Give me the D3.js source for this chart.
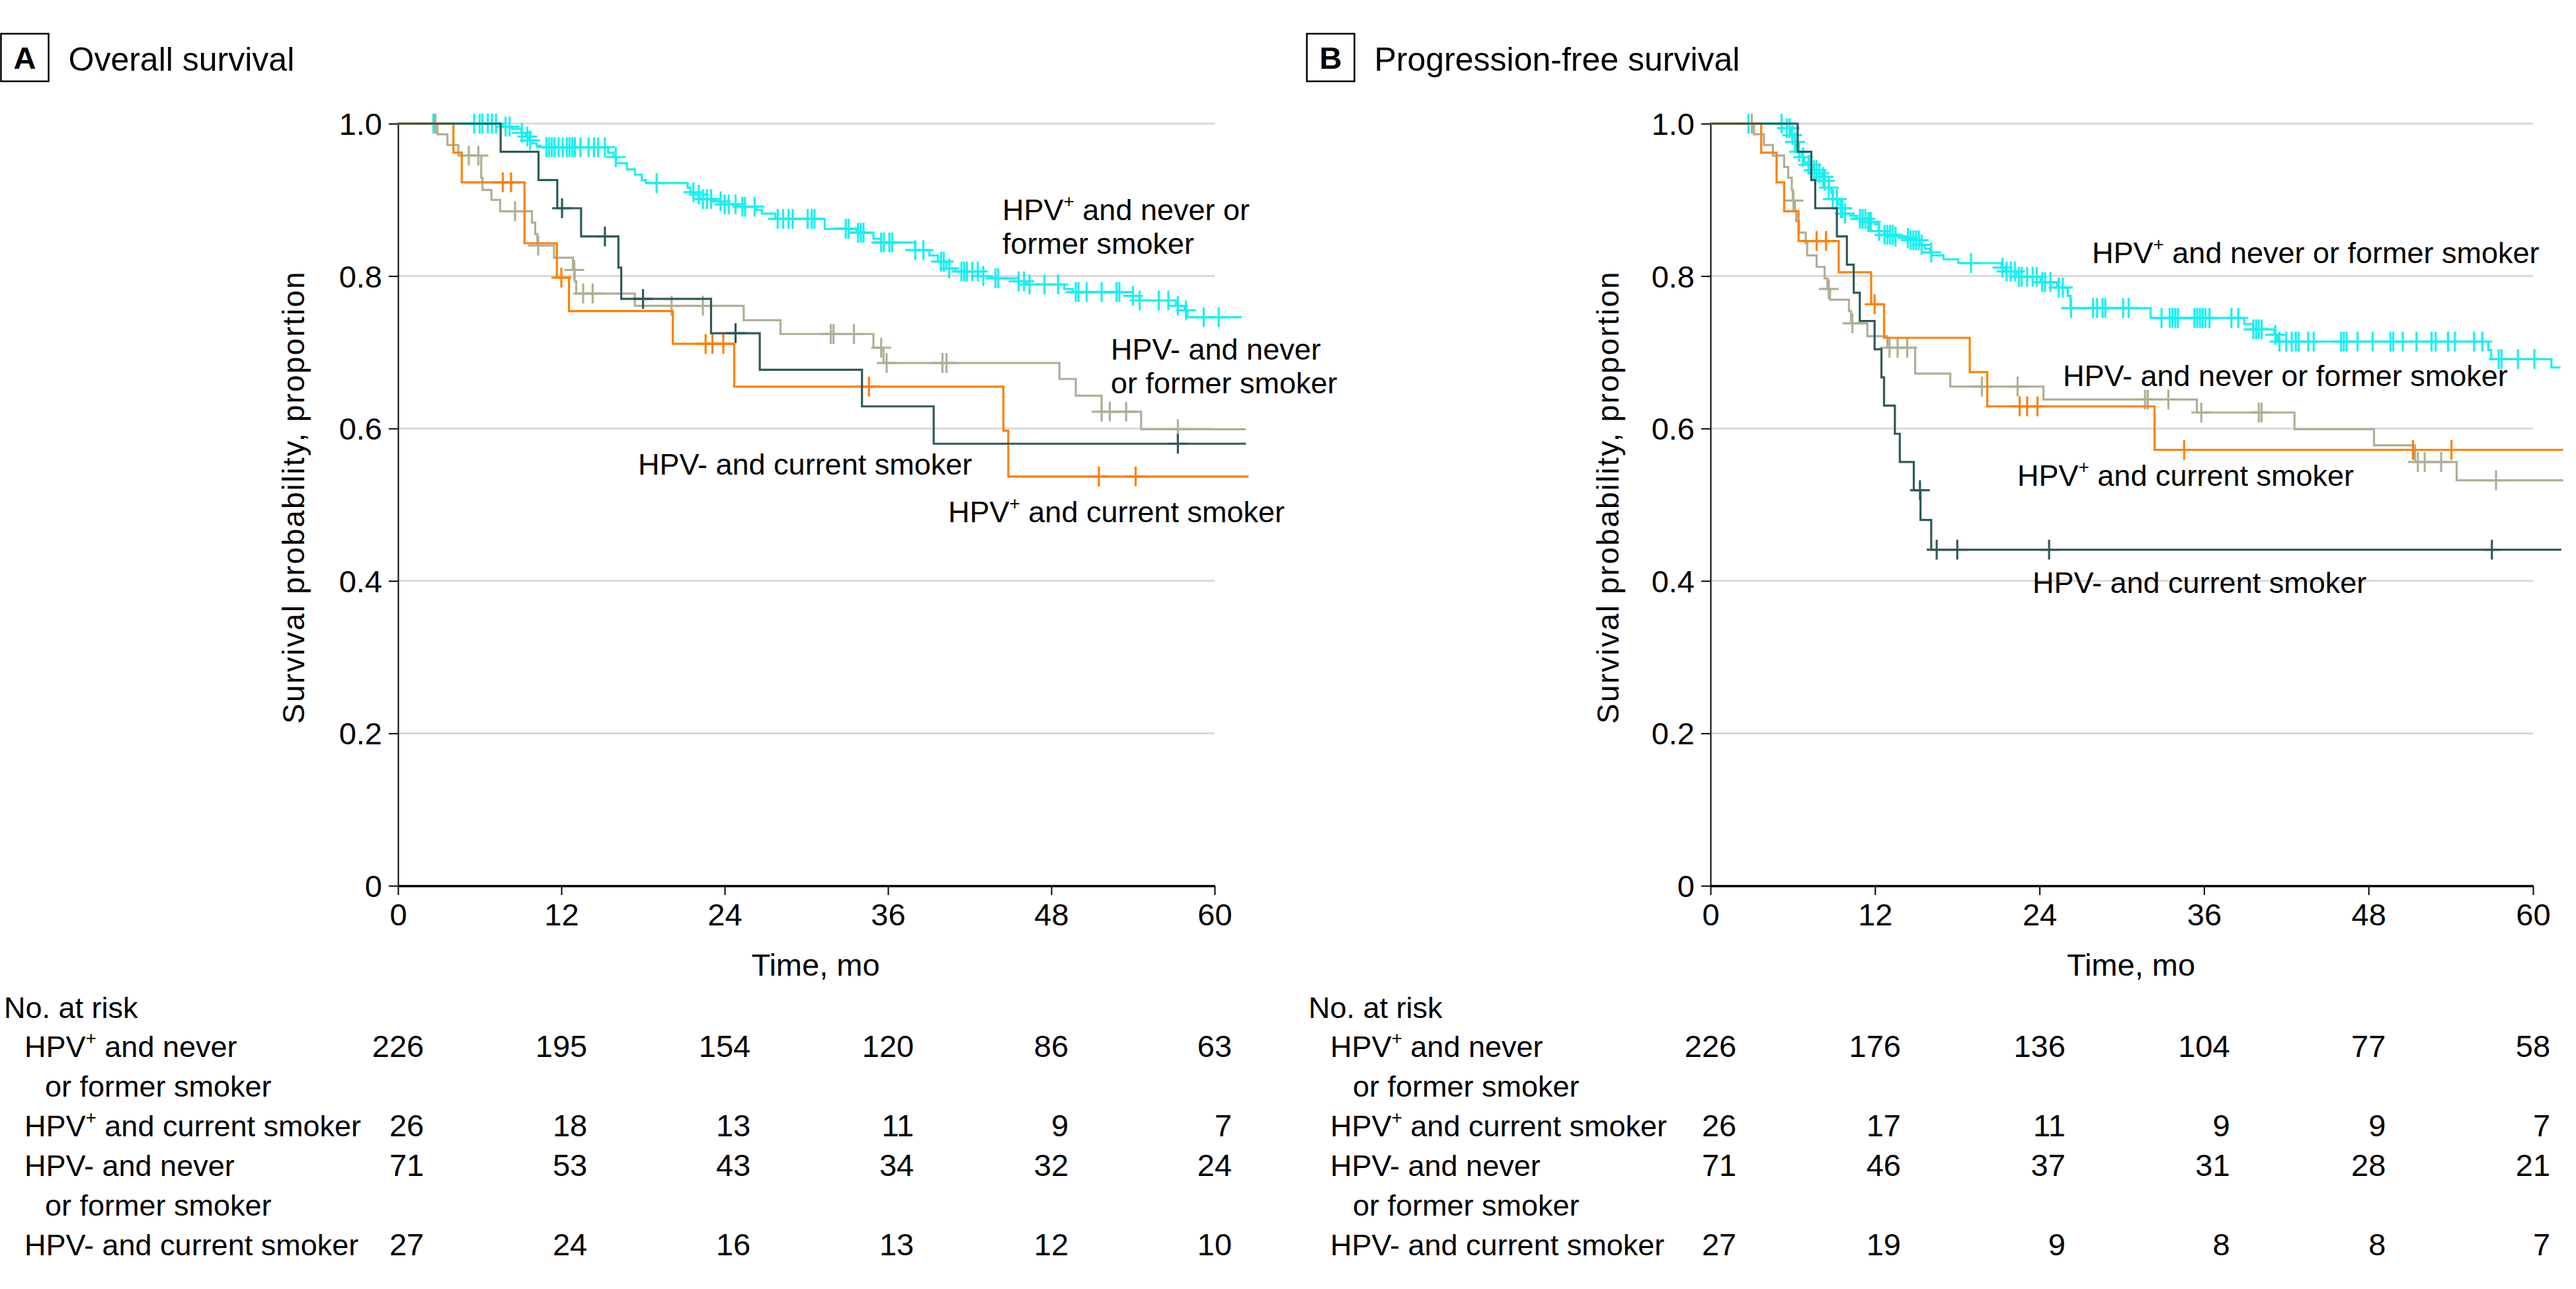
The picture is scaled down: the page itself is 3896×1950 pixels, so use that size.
<!DOCTYPE html>
<html><head><meta charset="utf-8">
<script src="https://cdn.jsdelivr.net/npm/d3@7/dist/d3.min.js"></script>
<style>
body{margin:0;background:#fff}
svg{display:block}
text{font-family:"Liberation Sans",Arial,Helvetica,sans-serif;fill:#000}
</style>
</head><body>
<svg id="chart" width="3896" height="1950"></svg>
<script>
// ---------------- DATA ----------------
const timeTicks = [0, 12, 24, 36, 48, 60];
const survTicks = [0, 0.2, 0.4, 0.6, 0.8, 1.0];
const groupNames = ["HPV⁺ and never or former smoker", "HPV⁺ and current smoker", "HPV- and never or former smoker", "HPV- and current smoker"];
const riskRowLabels = ["HPV⁺ and never", "HPV⁺ and current smoker", "HPV- and never", "HPV- and current smoker"];
const riskRowContinuation = ["or former smoker", "", "or former smoker", ""];

// Panel A: overall survival — Kaplan-Meier drops [month, survival]
const osPosNeverSteps = [[7.70,0.996],[8.39,0.993],[9.08,0.988],[9.38,0.983],[9.58,0.978],[9.88,0.974],[10.18,0.971],[10.47,0.969],[15.43,0.962],[15.83,0.956],[16.03,0.948],[16.82,0.940],[17.41,0.933],[17.91,0.926],[18.21,0.922],[21.28,0.916],[21.48,0.910],[21.78,0.907],[22.17,0.901],[23.16,0.898],[23.96,0.894],[24.95,0.891],[26.34,0.887],[26.73,0.882],[27.73,0.875],[31.35,0.862],[33.67,0.857],[34.93,0.849],[35.46,0.844],[37.99,0.834],[39.04,0.827],[39.67,0.819],[40.30,0.810],[40.94,0.806],[42.62,0.800],[43.46,0.797],[45.57,0.793],[46.20,0.789],[48.94,0.783],[49.58,0.779],[54.00,0.774],[54.50,0.768],[57.16,0.761],[57.79,0.755],[58.00,0.746]];
const osPosNeverCensored = [2.6,5.6,6.0,6.2,6.6,6.9,7.2,7.9,8.2,9.1,9.5,9.7,10.9,11.1,11.3,11.5,11.8,12.1,12.4,12.6,12.8,13.0,13.4,14.0,14.4,14.7,15.2,16.0,19.0,21.7,22.1,22.4,22.7,23.0,23.7,24.0,24.3,24.8,25.3,25.5,26.2,27.9,28.3,28.7,29.0,30.1,30.4,30.6,32.9,33.1,33.8,34.0,34.2,35.5,35.7,36.1,36.3,38.0,38.6,39.9,40.1,40.5,41.4,41.6,41.8,42.2,42.6,43.0,43.9,44.1,45.6,46.0,46.4,47.5,48.5,49.8,50.0,50.6,51.7,52.8,53.0,54.0,54.5,55.9,56.6,57.3,57.9,59.2,60.3];
const osPosCurrentSteps = [[4.07,0.962],[4.68,0.923],[9.29,0.843],[11.67,0.798],[12.56,0.754],[20.19,0.711],[24.70,0.655],[44.48,0.597],[44.84,0.537]];
const osPosCurrentCensored = [7.7,8.3,12.0,22.6,23.1,23.9,34.6,51.5,54.2];
const osNegNeverSteps = [[2.90,0.986],[3.63,0.972],[4.43,0.958],[6.11,0.929],[6.21,0.913],[6.86,0.900],[7.50,0.885],[9.84,0.870],[10.08,0.855],[10.24,0.840],[11.46,0.824],[12.85,0.808],[12.98,0.793],[13.09,0.777],[17.40,0.761],[25.40,0.742],[28.10,0.724],[34.93,0.706],[35.67,0.686],[48.60,0.665],[49.80,0.643],[51.70,0.622],[54.60,0.599]];
const osNegNeverCensored = [2.74,5.2,5.9,8.6,10.3,12.95,13.6,14.3,20.1,22.4,31.8,32.0,33.5,35.5,35.9,40.0,40.3,51.7,52.3,53.5,57.3];
const osNegCurrentSteps = [[7.54,0.963],[10.32,0.926],[11.70,0.889],[13.45,0.852],[16.19,0.811],[16.40,0.770],[23.00,0.725],[26.58,0.677],[34.09,0.629],[39.36,0.580]];
const osNegCurrentCensored = [12.05,15.2,18.0,24.8,57.3];
const osFollowUpEnd = [62.0, 62.5, 62.3, 62.3];

// Panel B: progression-free survival
const pfsPosNeverSteps = [[5.57,0.994],[5.87,0.985],[6.16,0.976],[6.26,0.963],[6.66,0.956],[6.85,0.949],[7.15,0.946],[7.44,0.939],[7.94,0.935],[8.13,0.930],[8.33,0.925],[8.63,0.916],[8.82,0.909],[8.92,0.901],[9.31,0.894],[9.51,0.889],[9.81,0.882],[10.2,0.879],[10.7,0.875],[11.48,0.871],[11.97,0.868],[12.27,0.859],[12.66,0.854],[13.45,0.852],[14.24,0.850],[14.44,0.847],[15.23,0.841],[15.62,0.836],[16.01,0.831],[16.11,0.827],[17.0,0.822],[18.08,0.817],[21.23,0.811],[21.53,0.806],[22.32,0.799],[24.09,0.792],[25.27,0.785],[26.06,0.774],[26.26,0.758],[32.1,0.745],[38.94,0.737],[39.57,0.730],[41.14,0.723],[41.35,0.714],[56.73,0.703],[56.94,0.691],[61.34,0.680]];
const pfsPosNeverCensored = [2.77,5.18,5.57,5.77,5.97,6.16,6.46,6.75,7.15,7.34,7.54,7.74,7.94,8.23,8.33,8.63,8.92,9.22,9.51,9.61,9.81,10.9,11.1,11.3,11.5,11.6,11.7,12.3,12.7,12.9,13.1,13.3,13.5,14.4,14.6,14.8,15.0,15.2,15.4,16.1,19.0,21.3,21.6,21.9,22.2,22.5,22.7,23.1,23.5,23.8,24.2,24.4,24.8,25.4,25.7,26.3,27.9,28.2,28.6,28.8,30.1,30.5,32.9,33.5,33.7,33.9,34.1,35.3,35.5,35.7,35.9,36.1,36.4,38.0,38.5,39.6,39.8,40.0,40.2,41.2,41.5,42.0,42.4,42.7,42.9,43.6,44.0,46.0,46.2,46.4,47.2,48.3,49.6,49.8,50.5,51.5,52.6,52.9,53.8,54.3,55.7,56.3,57.5,57.7,58.9,60.1];
const pfsPosCurrentSteps = [[3.70,0.962],[4.82,0.923],[5.37,0.885],[6.42,0.846],[9.35,0.805],[11.72,0.763],[12.66,0.719],[18.91,0.674],[20.19,0.629],[32.39,0.572]];
const pfsPosCurrentCensored = [7.74,8.43,11.97,22.55,23.1,23.85,34.55,51.24,54.05];
const pfsNegNeverSteps = [[3.17,0.986],[3.90,0.972],[4.55,0.958],[5.37,0.943],[5.67,0.929],[5.93,0.913],[6.00,0.899],[6.16,0.886],[6.25,0.872],[6.46,0.857],[6.95,0.843],[7.05,0.827],[7.74,0.812],[8.33,0.797],[8.53,0.783],[8.72,0.769],[10.10,0.754],[10.25,0.738],[11.44,0.721],[12.90,0.706],[14.93,0.672],[17.49,0.655],[24.29,0.638],[35.48,0.621],[42.60,0.599],[48.40,0.578],[51.39,0.556],[54.43,0.532]];
const pfsNegNeverCensored = [3.01,6.05,8.63,10.35,13.06,13.65,14.35,19.8,22.4,31.7,31.9,33.4,35.8,40.0,40.2,51.6,52.1,53.3,57.3];
const pfsNegCurrentSteps = [[6.36,0.963],[7.35,0.926],[7.64,0.889],[9.22,0.852],[9.95,0.815],[10.45,0.778],[10.89,0.741],[11.97,0.704],[12.47,0.667],[12.66,0.630],[13.45,0.593],[13.81,0.556],[14.83,0.519],[15.32,0.480],[16.10,0.441]];
const pfsNegCurrentCensored = [15.28,16.5,18.0,24.7,57.0];
const pfsFollowUpEnd = [62.0, 62.2, 62.2, 62.06];

// Numbers at risk (rows in group order, columns at timeTicks)
const osRiskPosNever = [226,195,154,120,86,63];
const osRiskPosCurrent = [26,18,13,11,9,7];
const osRiskNegNever = [71,53,43,34,32,24];
const osRiskNegCurrent = [27,24,16,13,12,10];
const pfsRiskPosNever = [226,176,136,104,77,58];
const pfsRiskPosCurrent = [26,17,11,9,9,7];
const pfsRiskNegNever = [71,46,37,31,28,21];
const pfsRiskNegCurrent = [27,19,9,8,8,7];

// ---------------- STYLE / LAYOUT ----------------
const groupColors = ["#17F0F0", "#FF8000", "#B0AF95", "#2E5A5A"];
const drawOrder = [0, 2, 1, 3];
const plotTop = 187, plotBottom = 1340;
const svg = d3.select("#chart");

function richText(sel, str, fs) {
  const parts = str.split("⁺");
  const sh = fs * 0.42;
  parts.forEach((p, i) => {
    if (i > 0) {
      sel.append("tspan").attr("font-size", fs * 0.62).attr("dy", -sh).text("+");
      sel.append("tspan").attr("font-size", fs).attr("dy", sh).text(p);
    } else if (p.length) {
      sel.append("tspan").text(p);
    }
  });
}

function survAt(steps, t) {
  let s = 1;
  for (const d of steps) { if (d[0] <= t) s = d[1]; else break; }
  return s;
}

function panel(o) {
  const g = svg.append("g");
  const x = d3.scaleLinear().domain([0, 60]).range([o.x0, o.x1]);
  const y = d3.scaleLinear().domain([0, 1]).range([plotBottom, plotTop]);

  // header
  g.append("rect").attr("x", o.boxX).attr("y", 51).attr("width", 72).attr("height", 72)
    .attr("fill", "none").attr("stroke", "#000").attr("stroke-width", 2.5);
  g.append("text").attr("x", o.boxX + 36).attr("y", 104).attr("text-anchor", "middle")
    .attr("font-size", 47).attr("font-weight", "bold").text(o.letter);
  g.append("text").attr("x", o.boxX + 102).attr("y", 107).attr("font-size", 50).text(o.title);

  // grid
  g.append("g").selectAll("line").data(survTicks.filter(v => v > 0)).join("line")
    .attr("x1", x(0)).attr("x2", x(60)).attr("y1", d => y(d)).attr("y2", d => y(d))
    .attr("stroke", "#d9d9d9").attr("stroke-width", 3);

  // y axis
  const ya = g.append("g").attr("transform", `translate(${x(0)},0)`)
    .call(d3.axisLeft(y).tickValues(survTicks).tickFormat(d => d === 0 ? "0" : d3.format(".1f")(d))
      .tickSize(14).tickSizeOuter(0).tickPadding(10));
  ya.attr("font-family", null).attr("font-size", null);
  ya.select(".domain").attr("stroke-width", 2);
  ya.selectAll(".tick line").attr("stroke-width", 2);
  ya.selectAll(".tick text").attr("font-size", 47).attr("dy", "0.35em");

  // x axis
  const xa = g.append("g").attr("transform", `translate(0,${y(0)})`)
    .call(d3.axisBottom(x).tickValues(timeTicks).tickFormat(d3.format("d"))
      .tickSize(14).tickSizeOuter(0).tickPadding(13));
  xa.attr("font-family", null).attr("font-size", null);
  xa.select(".domain").attr("stroke-width", 3.5);
  xa.selectAll(".tick line").attr("stroke-width", 2);
  xa.selectAll(".tick text").attr("font-size", 47);

  // axis titles
  g.append("text").attr("transform", `translate(${o.yLabelX},752) rotate(-90)`)
    .attr("text-anchor", "middle").attr("font-size", 46).attr("letter-spacing", 2.2)
    .text("Survival probability, proportion");
  g.append("text").attr("x", (x(0) + x(60)) / 2 + 14).attr("y", 1476).attr("text-anchor", "middle")
    .attr("font-size", 47).text("Time, mo");

  // curves
  const line = d3.line().x(d => x(d[0])).y(d => y(d[1])).curve(d3.curveStepAfter);
  drawOrder.forEach(i => {
    const steps = o.steps[i];
    const pts = [[0, 1], ...steps, [o.ends[i], steps[steps.length - 1][1]]];
    g.append("path").attr("d", line(pts)).attr("fill", "none")
      .attr("stroke", groupColors[i]).attr("stroke-width", 3.2);
    g.append("g").selectAll("path").data(o.cens[i]).join("path")
      .attr("d", t => {
        const cx = x(t), cy = y(survAt(steps, t));
        return `M${cx - 15},${cy}H${cx + 15}M${cx},${cy - 15}V${cy + 15}`;
      })
      .attr("fill", "none").attr("stroke", groupColors[i]).attr("stroke-width", 3.2);
  });

  // curve labels
  o.curveLabels.forEach((cl, i) => {
    cl.lines.forEach((ln, j) => {
      const t = g.append("text").attr("x", cl.x).attr("y", cl.y + j * 51).attr("font-size", 45);
      richText(t, ln, 45);
    });
  });

  // risk table
  g.append("text").attr("x", o.noRiskX).attr("y", 1540).attr("font-size", 45).text("No. at risk");
  const rowY = [1599, 1719, 1779, 1899];
  riskRowLabels.forEach((lab, i) => {
    const t = g.append("text").attr("x", o.rowX).attr("y", rowY[i]).attr("font-size", 45);
    richText(t, lab, 45);
    if (riskRowContinuation[i]) {
      g.append("text").attr("x", o.contX).attr("y", rowY[i] + 60).attr("font-size", 45).text(riskRowContinuation[i]);
    }
  });
  timeTicks.forEach((tk, c) => {
    const texts = o.risk.map((row, r) => g.append("text").attr("y", rowY[r])
      .attr("font-size", 47).attr("text-anchor", "end").text(row[c]));
    const maxW = d3.max(texts, t => t.node().getComputedTextLength());
    texts.forEach(t => t.attr("x", x(tk) + maxW / 2));
  });
}

panel({
  x0: 602, x1: 1837, boxX: 1.5, letter: "A", title: "Overall survival", yLabelX: 460,
  steps: [osPosNeverSteps, osPosCurrentSteps, osNegNeverSteps, osNegCurrentSteps],
  cens: [osPosNeverCensored, osPosCurrentCensored, osNegNeverCensored, osNegCurrentCensored],
  ends: osFollowUpEnd,
  risk: [osRiskPosNever, osRiskPosCurrent, osRiskNegNever, osRiskNegCurrent],
  noRiskX: 6, rowX: 37, contX: 68,
  curveLabels: [
    {x: 1516, y: 333, lines: ["HPV⁺ and never or", "former smoker"]},
    {x: 1434, y: 790, lines: ["HPV⁺ and current smoker"]},
    {x: 1680, y: 544, lines: ["HPV- and never", "or former smoker"]},
    {x: 965, y: 718, lines: ["HPV- and current smoker"]}
  ]
});

panel({
  x0: 2587, x1: 3831, boxX: 1976.5, letter: "B", title: "Progression-free survival", yLabelX: 2448,
  steps: [pfsPosNeverSteps, pfsPosCurrentSteps, pfsNegNeverSteps, pfsNegCurrentSteps],
  cens: [pfsPosNeverCensored, pfsPosCurrentCensored, pfsNegNeverCensored, pfsNegCurrentCensored],
  ends: pfsFollowUpEnd,
  risk: [pfsRiskPosNever, pfsRiskPosCurrent, pfsRiskNegNever, pfsRiskNegCurrent],
  noRiskX: 1979, rowX: 2012, contX: 2046,
  curveLabels: [
    {x: 3164, y: 398, lines: [groupNames[0]]},
    {x: 3051, y: 735, lines: [groupNames[1]]},
    {x: 3120, y: 584, lines: [groupNames[2]]},
    {x: 3074, y: 897, lines: [groupNames[3]]}
  ]
});
</script>
</body></html>
